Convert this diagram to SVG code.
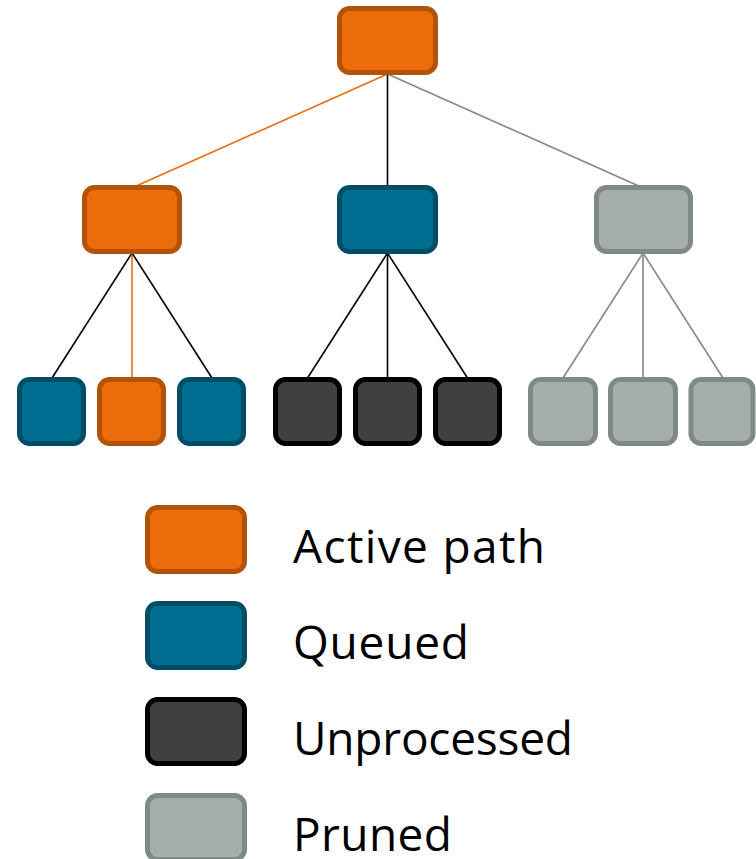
<svg xmlns="http://www.w3.org/2000/svg" width="756" height="859" viewBox="0 0 756 859">
<style>
.n{stroke-width:5}
.act{fill:#EC6C0C;stroke:#B3530A}
.que{fill:#006E91;stroke:#004E66}
.unp{fill:#404040;stroke:#000000}
.pru{fill:#A6AEAC;stroke:#7F8A86}
.e{stroke-width:1.6;fill:none}
.eo{stroke:#EC6C0C}
.ek{stroke:#000000}
.eg{stroke:#7F8A86}
.lbl{font-family:"Open Sans","Noto Sans",sans-serif;font-size:46px;fill:#000}
</style>
<g id="connectors">
<line class="e eo" x1="387.5" y1="74" x2="134" y2="187"/>
<line class="e ek" x1="387.5" y1="74" x2="387.5" y2="187"/>
<line class="e eg" x1="387.5" y1="74" x2="641" y2="187"/>
<line class="e ek" x1="132" y1="253" x2="52" y2="378"/>
<line class="e eo" x1="132" y1="253" x2="132" y2="378"/>
<line class="e ek" x1="132" y1="253" x2="212" y2="378"/>
<line class="e ek" x1="387.5" y1="253" x2="307.5" y2="378"/>
<line class="e ek" x1="387.5" y1="253" x2="387.5" y2="378"/>
<line class="e ek" x1="387.5" y1="253" x2="467.5" y2="378"/>
<line class="e eg" x1="643" y1="253" x2="563" y2="378"/>
<line class="e eg" x1="643" y1="253" x2="643" y2="378"/>
<line class="e eg" x1="643" y1="253" x2="723" y2="378"/>
</g>
<g id="root"><rect class="n act" x="339.5" y="8.5" width="96" height="64" rx="10"/></g>
<g id="l2-left"><rect class="n act" x="84.5" y="187.5" width="95" height="64" rx="10"/></g>
<g id="l2-mid"><rect class="n que" x="339.5" y="187.5" width="96" height="64" rx="10"/></g>
<g id="l2-right"><rect class="n pru" x="596.5" y="187.5" width="94" height="64" rx="10"/></g>
<g id="c1"><rect class="n que" x="19.5" y="379.5" width="64" height="64" rx="10"/></g>
<g id="c2"><rect class="n act" x="99.5" y="379.5" width="64" height="64" rx="10"/></g>
<g id="c3"><rect class="n que" x="179.5" y="379.5" width="64" height="64" rx="10"/></g>
<g id="c4"><rect class="n unp" x="275.5" y="379.5" width="64" height="64" rx="10"/></g>
<g id="c5"><rect class="n unp" x="355.5" y="379.5" width="64" height="64" rx="10"/></g>
<g id="c6"><rect class="n unp" x="435.5" y="379.5" width="64" height="64" rx="10"/></g>
<g id="c7"><rect class="n pru" x="530.5" y="379.5" width="65" height="64" rx="10"/></g>
<g id="c8"><rect class="n pru" x="610.5" y="379.5" width="65" height="64" rx="10"/></g>
<g id="c9"><rect class="n pru" x="691" y="379.5" width="62" height="64" rx="10"/></g>
<g id="legend-active"><rect class="n act" x="147.5" y="507.5" width="97" height="64" rx="10"/><text class="lbl" x="293" y="563" textLength="252">Active path</text></g>
<g id="legend-queued"><rect class="n que" x="147.5" y="603.5" width="97" height="64" rx="10"/><text class="lbl" x="293" y="659" textLength="176">Queued</text></g>
<g id="legend-unprocessed"><rect class="n unp" x="147.5" y="699.5" width="97" height="64" rx="10"/><text class="lbl" x="293" y="755" textLength="280">Unprocessed</text></g>
<g id="legend-pruned"><rect class="n pru" x="147.5" y="795.5" width="97" height="64" rx="10"/><text class="lbl" x="293" y="851" textLength="159">Pruned</text></g>
</svg>
